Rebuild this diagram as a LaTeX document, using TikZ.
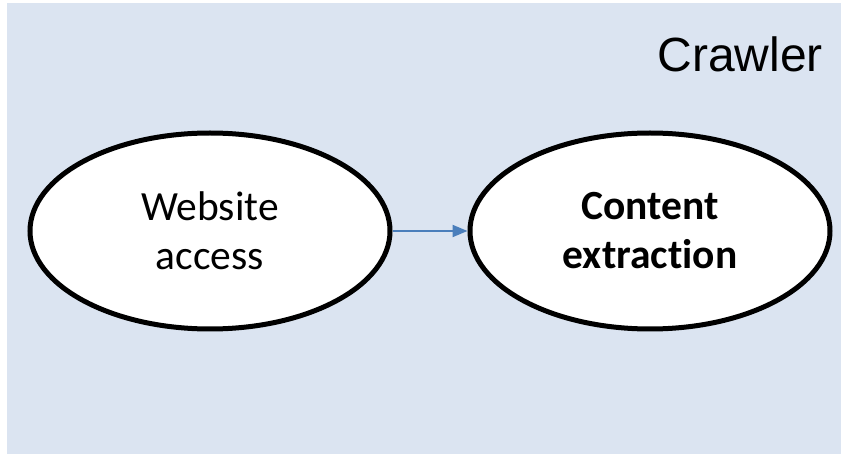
\documentclass[tikz,border=0pt]{standalone}
\usepackage{fontspec}
\setmainfont{Carlito}[Ligatures=NoCommon]
\newfontfamily\crawlfont{Liberation Sans}
\usetikzlibrary{arrows.meta,positioning,shapes.geometric}
\definecolor{bgblue}{HTML}{DBE4F1}
\definecolor{arrblue}{HTML}{4A7EBB}

\begin{document}
\begin{tikzpicture}[x=1pt, y=-1pt, >={Triangle[length=15pt,width=12pt]},
  every node/.style={font=\fontsize{41.5}{49}\selectfont},
  stage/.style={ellipse,draw,line width=5pt,fill=white,minimum width=360pt,minimum height=196pt,inner sep=0pt,align=center}]
\useasboundingbox (0,0) rectangle (841,454);
\fill[bgblue] (7,3) rectangle (841,454);
\node[stage] (a) at (210,231) {Website\\access};
\node[stage,right=75pt of a,font=\fontsize{41.5}{49}\selectfont\bfseries] (b) {Content\\extraction};
\draw[->,arrblue,line width=2pt] (a) -- (b);
\node[anchor=base east,inner sep=0pt,font=\crawlfont\fontsize{48}{58}\selectfont] (t) at (823,72) {Crawler};
\end{tikzpicture}
\end{document}
